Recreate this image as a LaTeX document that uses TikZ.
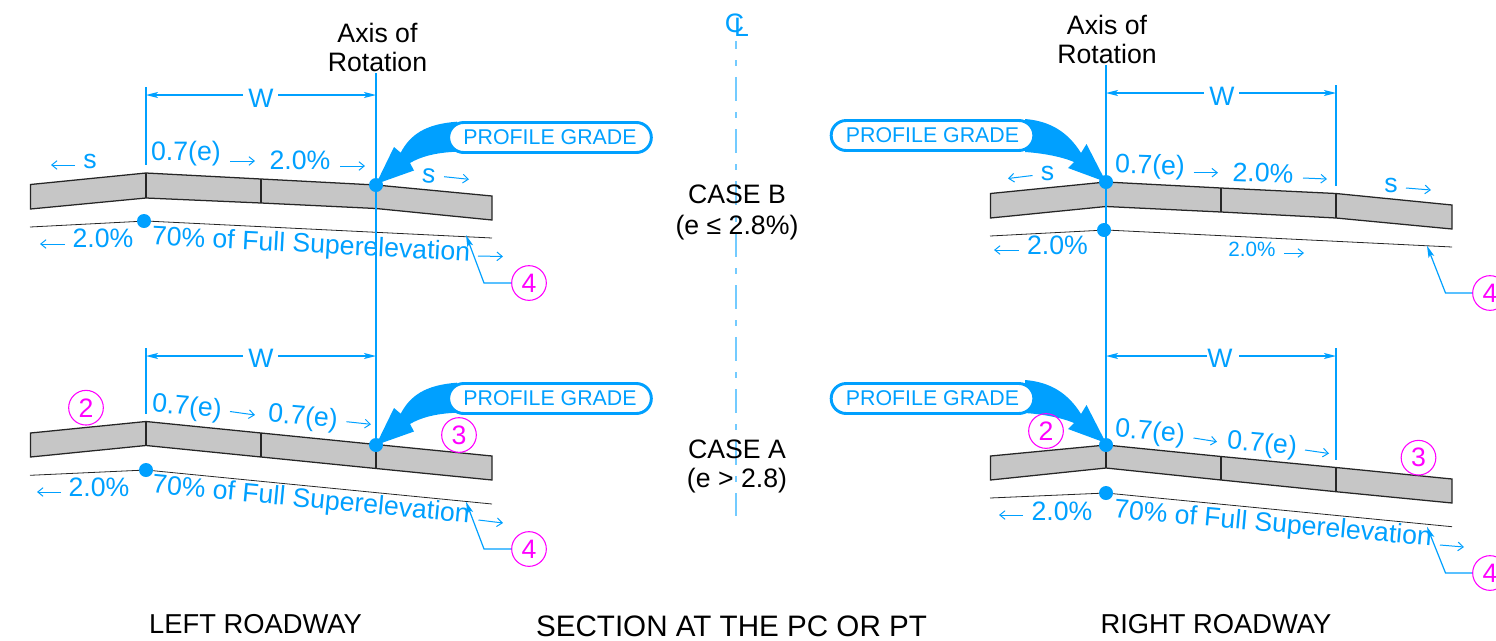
\documentclass[tikz,border=0pt]{standalone}
\usepackage{fontspec}
\setmainfont{Liberation Sans}
\usetikzlibrary{arrows.meta,shapes.misc}
\definecolor{cblue}{RGB}{0,160,255}
\definecolor{cmag}{RGB}{255,0,255}
\definecolor{cgray}{RGB}{198,198,198}
\tikzset{
  x=0.75pt,y=-0.75pt,
  lbl/.style={text=cblue,font=\fontsize{20}{24}\selectfont,inner sep=0pt,anchor=center},
  blk/.style={text=black,font=\fontsize{20}{21.75}\selectfont,inner sep=0pt,align=center,anchor=center},
  axisline/.style={draw=cblue,line width=1.1pt},
  dimline/.style={draw=cblue,line width=0.9pt},
  dimhead/.style={dimline,-{Stealth[length=9pt,width=4.5pt,inset=2pt]}},
  leader/.style={dimline,-{Stealth[length=9pt,width=4.5pt,inset=2pt]}},
  sarrow/.style={draw=cblue,line width=0.75pt,-{Straight Barb[length=4pt,width=6.5pt,line width=0.75pt]}},
  slabface/.style={fill=cgray,draw=black!85,line width=0.95pt,line join=miter},
  joint/.style={draw=black!85,line width=0.95pt},
  ground/.style={draw=black!85,line width=0.6pt},
  dot/.style={circle,fill=cblue,inner sep=0pt,minimum size=10.5pt},
  tag/.style={circle,draw=cmag,line width=0.8pt,text=cmag,fill=none,font=\fontsize{20}{24}\selectfont,inner sep=0pt,minimum size=26pt},
  pill/.style={rounded rectangle,draw=cblue,line width=2.2pt,fill=white,text=cblue,font=\fontsize{16}{19}\selectfont,minimum width=152pt,minimum height=22.5pt,inner sep=0pt},
  bigarrow/.style={fill=cblue,draw=none},
  cl/.style={draw=cblue!55,line width=1.5pt,dash pattern=on 18pt off 8.25pt on 4.5pt off 8.25pt,dash phase=12pt}
}
\newcommand{\sarr}[2]{\draw[sarrow] #1 -- #2;}
\begin{document}
\begin{tikzpicture}
\useasboundingbox (0,0) rectangle (1496,640);
% centre line
\coordinate (clT) at (736,41); \coordinate (clB) at (736,516);
\draw[cl] (clT) -- (clB);
\node[lbl,font=\fontsize{20}{24}\selectfont] (clC) at (734.5,23) {C};
\node[lbl,font=\fontsize{20}{24}\selectfont] (clL) at (741.5,27.5) {L};
\node[blk] (caseB) at (737,212) {CASE B\\[1.5pt](e ≤ 2.8\%)};
\node[blk] (caseA) at (737,466.5) {CASE A\\[0pt](e > 2.8)};
\node[blk,font=\fontsize{20.5}{22}\selectfont] (t1) at (255.5,624) {LEFT ROADWAY};
\node[blk,font=\fontsize{22.2}{24}\selectfont] (t2) at (731.5,626) {SECTION AT THE PC OR PT};
\node[blk,font=\fontsize{20.5}{22}\selectfont] (t3) at (1216,624) {RIGHT ROADWAY};
\node[blk] (axL) at (377.5,47.5) {Axis of\\Rotation};
\node[blk] (axR) at (1107,39.5) {Axis of\\Rotation};

% ---------- LEFT / CASE B
\path[slabface] (30.5,184.5) -- (146,173) -- (261,179) -- (376,185) -- (492,196) -- (492,220) -- (376,208.5) -- (261,203) -- (146,198) -- (30.5,209) -- cycle;
\draw[joint,line width=1.3pt] (146,173) -- (146,198);
\draw[joint] (261,179) -- (261,203);
\draw[ground] (30,227) -- (146,221) -- (492,238);
% ---------- LEFT / CASE A
\path[slabface] (30.5,433) -- (146,421.5) -- (261,433) -- (376,444.5) -- (492,456) -- (492,480) -- (376,468.5) -- (261,457) -- (146,445.5) -- (30.5,457) -- cycle;
\draw[joint,line width=1.3pt] (146,421.5) -- (146,445.5);
\draw[joint] (261,433) -- (261,457);
\draw[joint] (376,444.5) -- (376,468.5);
\draw[ground] (30,475.3) -- (146,470) -- (492,504);
% ---------- RIGHT / CASE B
\path[slabface] (990.5,193.5) -- (1106,182) -- (1221,188) -- (1336,193.5) -- (1452,205) -- (1452,229) -- (1336,218) -- (1221,212) -- (1106,206.5) -- (990.5,218) -- cycle;
\draw[joint] (1221,188) -- (1221,212);
\draw[joint] (1336,193.5) -- (1336,218);
\draw[ground] (990,236) -- (1106,230) -- (1452,247);
% ---------- RIGHT / CASE A
\path[slabface] (990.5,456) -- (1106,445) -- (1221,456.5) -- (1336,467.5) -- (1452,479) -- (1452,503) -- (1336,491.7) -- (1221,480) -- (1106,468) -- (990.5,480) -- cycle;
\draw[joint] (1106,445) -- (1106,468);
\draw[joint] (1221,456.5) -- (1221,480);
\draw[joint] (1336,467.5) -- (1336,491.7);
\draw[ground] (990,498) -- (1106,493) -- (1452,526.7);

% axes of rotation
\coordinate (aLT) at (376,73); \coordinate (aLB) at (376,445);
\coordinate (aRT) at (1106,65); \coordinate (aRB) at (1106,446);
\draw[axisline] (aLT) -- (aLB);
\draw[axisline] (aRT) -- (aRB);

% big arrows and pills
\foreach \d in {0,261}{
\begin{scope}[yshift=-0.75pt*\d]
\fill[bigarrow] (457,121.7) .. controls (425,124) and (410,135) .. (400.7,152.7) -- (394,147) -- (376,184) -- (414,170.5) -- (410,163) .. controls (420,157) and (435,152.5) .. (457,151.7) -- cycle;
\fill[bigarrow] (1025,119) .. controls (1050,121) and (1068,132) .. (1081,153) -- (1086.5,144) -- (1106,182) -- (1068,168) -- (1074,162) .. controls (1060,156) and (1040,153) .. (1025,152) -- cycle;
\end{scope}}
\node[pill] (pLB) at (550,137.5) {PROFILE GRADE};
\node[pill] (pLA) at (550,398.5) {PROFILE GRADE};
\node[pill] (pRB) at (932.5,135.5) {PROFILE GRADE};
\node[pill] (pRA) at (932.5,398.5) {PROFILE GRADE};

% dots
\node[dot] (d1) at (376,185) {};
\node[dot] (d2) at (144,221) {};
\node[dot] (d3) at (376,445) {};
\node[dot] (d4) at (146,470) {};
\node[dot] (d5) at (1106,182) {};
\node[dot] (d6) at (1104,230) {};
\node[dot] (d7) at (1106,445) {};
\node[dot] (d8) at (1106,493) {};

% W dimensions
\coordinate (w1a) at (146,87); \coordinate (w1b) at (146,165);
\coordinate (w2a) at (146,348); \coordinate (w2b) at (146,414);
\coordinate (w3a) at (1336,85); \coordinate (w3b) at (1336,186);
\coordinate (w4a) at (1336,348); \coordinate (w4b) at (1336,460);
\draw[dimline] (w1a) -- (w1b);
\draw[dimline] (w2a) -- (w2b);
\draw[dimline] (w3a) -- (w3b);
\draw[dimline] (w4a) -- (w4b);
\node[lbl] (W1) at (261,98) {W};
\node[lbl] (W2) at (261,358) {W};
\node[lbl] (W3) at (1222,96) {W};
\node[lbl] (W4) at (1220,358) {W};
\coordinate (e1l) at (146,95); \coordinate (e1r) at (376,95);
\coordinate (e2l) at (146,356); \coordinate (e2r) at (376,356);
\coordinate (e3l) at (1106,93); \coordinate (e3r) at (1336,93);
\coordinate (e4l) at (1106,356); \coordinate (e4r) at (1336,356);
\draw[dimhead] (243,95) -- (e1l); \draw[dimhead] (278,95) -- (e1r);
\draw[dimhead] (243,356) -- (e2l); \draw[dimhead] (278,356) -- (e2r);
\draw[dimhead] (1204,93) -- (e3l); \draw[dimhead] (1239,93) -- (e3r);
\draw[dimhead] (1207,356) -- (e4l); \draw[dimhead] (1239,356) -- (e4r);

% labels: left case B
\node[lbl] (a1) at (90,161) {s};
\node[lbl] (a2) at (186,154) {0.7(e)};
\node[lbl] (a4) at (300,160) {2.0\%};
\node[lbl,rotate=-4] (a6) at (428.7,175.7) {s};
\node[lbl] (a8) at (103,238) {2.0\%};
\node[lbl,rotate=-3] (a9) at (311,246) {70\% of Full Superelevation};
\sarr{(75,165)}{(51,165)}
\sarr{(230,161)}{(255,161)}
\sarr{(340,166)}{(365,166)}
\sarr{(444,176.7)}{(469,179.3)}
\sarr{(65,244)}{(40,244)}
\sarr{(478,256)}{(503,256.5)}
% labels: left case A
\node[lbl,rotate=-5] (b1) at (187,408) {0.7(e)};
\node[lbl,rotate=-5] (b3) at (303,418) {0.7(e)};
\node[lbl] (b5) at (99,487) {2.0\%};
\node[lbl,rotate=-5.4] (b6) at (311,501) {70\% of Full Superelevation};
\sarr{(230,411.5)}{(255,415)}
\sarr{(346.5,421.7)}{(371,424.3)}
\sarr{(61,492)}{(37,492)}
\sarr{(478.5,520)}{(503,523)}
% labels: right case B
\node[lbl] (c1) at (1047.5,173) {s};
\node[lbl,rotate=-2] (c2) at (1150,167) {0.7(e)};
\node[lbl,rotate=-2] (c4) at (1263,173) {2.0\%};
\node[lbl] (c6) at (1391,185) {s};
\node[lbl] (c8) at (1057.5,245) {2.0\%};
\node[lbl,font=\fontsize{15.5}{18}\selectfont] (c9) at (1252,249) {2.0\%};
\sarr{(1032.5,175.5)}{(1008,178.5)}
\sarr{(1193.5,172.7)}{(1218,172.7)}
\sarr{(1303,178)}{(1327,179)}
\sarr{(1406,188)}{(1431,190)}
\sarr{(1019,250)}{(994,250)}
\sarr{(1284,253)}{(1304,253)}
% labels: right case A
\node[lbl,rotate=-5] (f1) at (1150,433) {0.7(e)};
\node[lbl,rotate=-5] (f3) at (1262,445) {0.7(e)};
\node[lbl] (f5) at (1062,511) {2.0\%};
\node[lbl,rotate=-5] (f6) at (1273,525) {70\% of Full Superelevation};
\sarr{(1193.5,438)}{(1217,441.7)}
\sarr{(1305,450)}{(1329,453.5)}
\sarr{(1023,515)}{(999,515)}
\sarr{(1440,545)}{(1464,547)}

% tags and leaders
\node[tag] (n2a) at (86,407.7) {2};
\node[tag] (n3a) at (459,435) {3};
\node[tag] (n4a) at (529,283) {4};
\node[tag] (n4b) at (529,549) {4};
\node[tag] (n2b) at (1046,431) {2};
\node[tag] (n3b) at (1418.5,457.7) {3};
\node[tag] (n4c) at (1490,293) {4};
\node[tag] (n4d) at (1490,573) {4};
\coordinate (l1) at (466,235); \coordinate (l2) at (466,501.7);
\coordinate (l3) at (1427,245.7); \coordinate (l4) at (1427,526.7);
\draw[leader] (n4a.west) -- (484,283) -- (l1);
\draw[leader] (n4b.west) -- (484,549) -- (l2);
\draw[leader] (n4c.west) -- (1445.5,293) -- (l3);
\draw[leader] (n4d.west) -- (1445.5,573) -- (l4);
\end{tikzpicture}
\end{document}
